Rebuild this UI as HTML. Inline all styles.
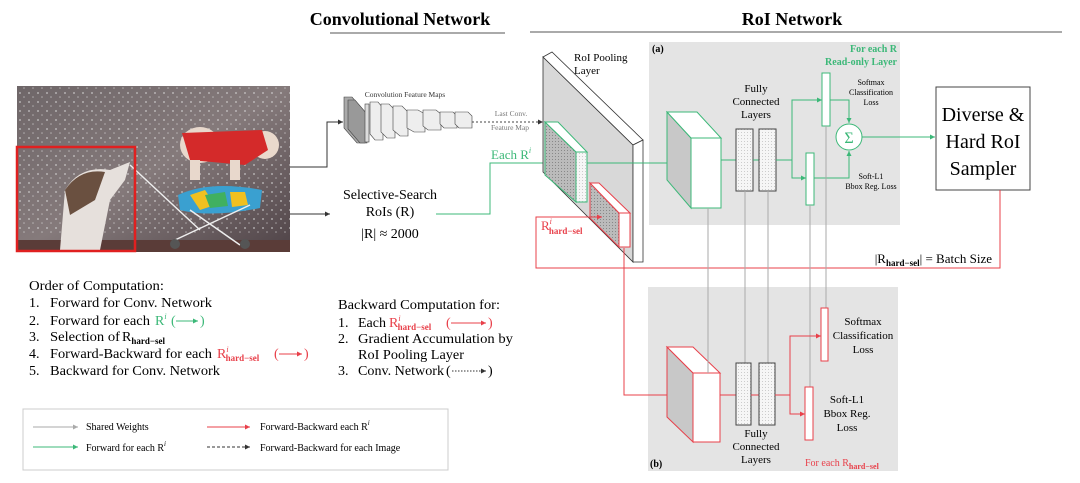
<!DOCTYPE html>
<html><head><meta charset="utf-8"><style>
html,body{margin:0;padding:0;background:#fff;}
svg{display:block;font-family:"Liberation Serif",serif;}
</style></head><body>
<svg width="1080" height="483" viewBox="0 0 1080 483" xmlns="http://www.w3.org/2000/svg">
<defs>
<marker id="ak" markerWidth="6" markerHeight="6" refX="5" refY="3" orient="auto" markerUnits="userSpaceOnUse"><path d="M0,0.5 L5,3 L0,5.5z" fill="#333"/></marker>
<marker id="ag" markerWidth="6" markerHeight="6" refX="5" refY="3" orient="auto" markerUnits="userSpaceOnUse"><path d="M0,0.5 L5,3 L0,5.5z" fill="#3cb878"/></marker>
<marker id="ar" markerWidth="6" markerHeight="6" refX="5" refY="3" orient="auto" markerUnits="userSpaceOnUse"><path d="M0,0.5 L5,3 L0,5.5z" fill="#e8404a"/></marker>
<marker id="agr" markerWidth="6" markerHeight="6" refX="5" refY="3" orient="auto" markerUnits="userSpaceOnUse"><path d="M0,0.5 L5,3 L0,5.5z" fill="#aaa"/></marker>
<pattern id="hatch" width="3" height="3" patternUnits="userSpaceOnUse"><rect width="3" height="3" fill="#bbb"/><rect width="1" height="1" fill="#888"/></pattern>
<pattern id="dots" width="3" height="3" patternUnits="userSpaceOnUse"><rect width="3" height="3" fill="#f6f6f6"/><rect width="1" height="1" fill="#ccc"/></pattern>
<pattern id="spark" width="9" height="9" patternUnits="userSpaceOnUse"><rect width="9" height="9" fill="none"/><circle cx="2" cy="3" r="1" fill="#ddd" opacity="0.6"/><circle cx="6" cy="7" r="0.8" fill="#eee" opacity="0.5"/></pattern>
<linearGradient id="bg" x1="0" y1="0" x2="1" y2="1"><stop offset="0" stop-color="#6e6668"/><stop offset="0.5" stop-color="#857a7b"/><stop offset="1" stop-color="#4f4347"/></linearGradient>
</defs>

<text x="400" y="25" font-size="18" font-weight="bold" text-anchor="middle">Convolutional Network</text>
<line x1="330" y1="33" x2="505" y2="33" stroke="#555" stroke-width="1"/>
<text x="792" y="25" font-size="18" font-weight="bold" text-anchor="middle">RoI Network</text>
<line x1="530" y1="32" x2="1062" y2="32" stroke="#555" stroke-width="1"/>

<!-- photo -->
<rect x="17" y="86" width="273" height="166" fill="url(#bg)"/>
<rect x="17" y="86" width="273" height="150" fill="url(#spark)"/>
<rect x="17" y="240" width="273" height="12" fill="#5a3c38"/>
<ellipse cx="200" cy="145" rx="20" ry="18" fill="#e8d8cc"/>
<ellipse cx="265" cy="145" rx="14" ry="14" fill="#ead9cc"/>
<path d="M182,133 L262,130 L268,150 L245,165 L190,160z" fill="#d42a2a"/>
<rect x="190" y="160" width="10" height="20" fill="#e8d8cc"/><rect x="230" y="160" width="10" height="20" fill="#e8d8cc"/>
<path d="M178,195 Q210,180 262,190 L260,208 Q210,218 180,210z" fill="#3aa0d0"/>
<path d="M190,195 L205,190 L215,205 L200,210z M230,192 L245,192 L248,205 L232,207z" fill="#f0c020"/>
<path d="M205,195 L225,192 L228,206 L210,208z" fill="#40b060"/>
<path d="M130,165 L200,230 M175,240 L250,205 M190,210 L240,245" stroke="#eee" stroke-width="1.5"/>
<circle cx="175" cy="244" r="5" fill="#555"/><circle cx="245" cy="244" r="5" fill="#555"/>
<path d="M60,250 L65,190 Q80,165 110,170 L130,162 L125,180 L110,200 L100,250z" fill="#e6e0dc"/>
<path d="M65,190 Q80,168 105,172 L95,200 L70,215z" fill="#6a5040"/>
<rect x="17" y="147" width="118" height="104" fill="none" stroke="#e02020" stroke-width="2.5"/>

<!-- conv feature maps -->
<text x="405" y="97" font-size="7.5" text-anchor="middle" fill="#333">Convolution Feature Maps</text>
<g stroke="#444" stroke-width="0.6">
<polygon points="344,97 352,97 365,112 365,143 357,143 344,128" fill="#aaa"/>
<polygon points="348,100 355,100 367,114 367,143 360,143 348,129" fill="#999"/>
<rect x="365" y="104" width="4" height="38" fill="#ddd"/>
<polygon points="370,102 378,102 383,108 383,140 375,140 370,134" fill="#eee"/>
<polygon points="381,104 389,104 395,110 395,138 387,138 381,132" fill="#eee"/>
<polygon points="393,106 402,106 408,112 408,136 400,136 393,130" fill="#eee"/>
<polygon points="407,110 418,110 425,114 425,132 414,132 407,128" fill="#eee"/>
<polygon points="423,110 436,110 441,114 441,130 428,130 423,126" fill="#eee"/>
<polygon points="440,112 453,112 457,116 457,128 444,128 440,124" fill="#eee"/>
<polygon points="455,112 468,112 472,116 472,128 459,128 455,124" fill="#eee"/>
</g>
<line x1="472" y1="122" x2="543" y2="122" stroke="#444" stroke-dasharray="2,2" marker-end="url(#ak)"/>
<text x="511" y="116" font-size="7.5" text-anchor="middle" fill="#777">Last Conv.</text>
<text x="510" y="130" font-size="7.5" text-anchor="middle" fill="#777">Feature Map</text>
<path d="M290,167 H327 V122 H343" fill="none" stroke="#333" marker-end="url(#ak)"/>
<line x1="290" y1="214" x2="330" y2="214" stroke="#333" marker-end="url(#ak)"/>
<text x="390" y="199" font-size="14" text-anchor="middle">Selective-Search</text>
<text x="390" y="216" font-size="14" text-anchor="middle">RoIs (R)</text>
<text x="390" y="238" font-size="14" text-anchor="middle">|R| ≈ 2000</text>
<path d="M436,214 H490 V163 H560" fill="none" stroke="#3cb878" marker-end="url(#ag)"/>
<text x="491" y="159" font-size="13" fill="#3cb878">Each R<tspan font-size="8" dy="-6" font-style="italic">i</tspan></text>

<!-- RoI pooling slab -->
<polygon points="543,57 633,145 633,262 543,172" fill="#d8d8d8" stroke="#333" stroke-width="0.8"/>
<polygon points="543,57 552,52 643,140 633,145" fill="#fff" stroke="#333" stroke-width="0.8"/>
<polygon points="633,145 643,140 643,262 633,262" fill="#fff" stroke="#333" stroke-width="0.8"/>
<text x="574" y="61" font-size="11">RoI Pooling</text>
<text x="574" y="74" font-size="11">Layer</text>
<polygon points="545,122 576,152 576,202 545,175" fill="url(#hatch)" stroke="#3cb878"/>
<polygon points="545,122 558,122 587,152 576,152" fill="#fff" stroke="#3cb878"/>
<rect x="576" y="152" width="11" height="50" fill="url(#dots)" stroke="#3cb878"/>
<polygon points="590,183 619,213 619,247 590,218" fill="url(#hatch)" stroke="#e8404a"/>
<polygon points="590,183 599,183 630,213 619,213" fill="#fff" stroke="#e8404a"/>
<rect x="619" y="213" width="11" height="34" fill="#fff" stroke="#e8404a"/>
<text x="541" y="230" font-size="13" fill="#e8404a">R<tspan font-size="8" dy="-6" font-style="italic">i</tspan><tspan font-size="9" font-weight="bold" dy="10" dx="-3">hard−sel</tspan></text>

<!-- (a) box -->
<rect x="649" y="42" width="251" height="183" fill="#e4e4e4"/>
<text x="652" y="52" font-size="10" font-weight="bold">(a)</text>
<text x="897" y="52" font-size="10" font-weight="bold" fill="#3cb878" text-anchor="end">For each R</text>
<text x="897" y="65" font-size="10" font-weight="bold" fill="#3cb878" text-anchor="end">Read-only Layer</text>
<line x1="587" y1="163" x2="677" y2="163" stroke="#3cb878" marker-end="url(#ag)"/>
<polygon points="667,112 691,138 691,208 667,180" fill="#c8c8c8" stroke="#3cb878"/>
<polygon points="667,112 697,112 721,138 691,138" fill="#fff" stroke="#3cb878"/>
<rect x="691" y="138" width="30" height="70" fill="#fff" stroke="#3cb878"/>
<line x1="721" y1="160" x2="736" y2="160" stroke="#3cb878"/>
<rect x="736" y="129" width="17" height="62" fill="url(#dots)" stroke="#444"/>
<line x1="753" y1="160" x2="759" y2="160" stroke="#3cb878"/>
<rect x="759" y="129" width="17" height="62" fill="url(#dots)" stroke="#444"/>
<text x="756" y="92" font-size="11" text-anchor="middle">Fully</text>
<text x="756" y="105" font-size="11" text-anchor="middle">Connected</text>
<text x="756" y="118" font-size="11" text-anchor="middle">Layers</text>
<path d="M776,160 H792 V100 H822" fill="none" stroke="#3cb878" marker-end="url(#ag)"/>
<path d="M792,160 V178 H806" fill="none" stroke="#3cb878" marker-end="url(#ag)"/>
<rect x="822" y="73" width="8" height="53" fill="#fff" stroke="#3cb878"/>
<rect x="806" y="153" width="8" height="52" fill="#fff" stroke="#3cb878"/>
<path d="M830,100 H849 V123" fill="none" stroke="#3cb878" marker-end="url(#ag)"/>
<path d="M814,178 H849 V151" fill="none" stroke="#3cb878" marker-end="url(#ag)"/>
<circle cx="849" cy="137" r="13" fill="#fff" stroke="#3cb878"/>
<text x="849" y="143" font-size="16" text-anchor="middle" fill="#3cb878">Σ</text>
<text x="871" y="85" font-size="8" text-anchor="middle">Softmax</text>
<text x="871" y="95" font-size="8" text-anchor="middle">Classification</text>
<text x="871" y="105" font-size="8" text-anchor="middle">Loss</text>
<text x="871" y="179" font-size="8" text-anchor="middle">Soft-L1</text>
<text x="871" y="189" font-size="8" text-anchor="middle">Bbox Reg. Loss</text>
<line x1="862" y1="137" x2="935" y2="137" stroke="#3cb878" marker-end="url(#ag)"/>

<rect x="936" y="87" width="94" height="103" fill="#fff" stroke="#444"/>
<text x="983" y="121" font-size="20" text-anchor="middle">Diverse &amp;</text>
<text x="983" y="148" font-size="20" text-anchor="middle">Hard RoI</text>
<text x="983" y="175" font-size="20" text-anchor="middle">Sampler</text>

<path d="M1000,190 V268 H536 V217 H602" fill="none" stroke="#e8404a" marker-end="url(#ar)"/>
<text x="992" y="263" font-size="13" text-anchor="end">|R<tspan font-size="9" font-weight="bold" dy="3">hard−sel</tspan><tspan dy="-3">| = Batch Size</tspan></text>

<g stroke="#aaa" stroke-width="1">
<line x1="708" y1="208" x2="708" y2="373"/>
<line x1="745" y1="191" x2="745" y2="363"/>
<line x1="768" y1="191" x2="768" y2="363"/>
<line x1="810" y1="205" x2="810" y2="387"/>
<line x1="826" y1="126" x2="826" y2="308"/>
</g>

<!-- (b) box -->
<rect x="648" y="287" width="250" height="184" fill="#e4e4e4"/>
<g stroke="#aaa"><line x1="708" y1="287" x2="708" y2="373"/><line x1="745" y1="287" x2="745" y2="363"/><line x1="768" y1="287" x2="768" y2="363"/><line x1="810" y1="287" x2="810" y2="387"/><line x1="826" y1="287" x2="826" y2="308"/></g>
<text x="650" y="467" font-size="10" font-weight="bold">(b)</text>
<text x="805" y="466" font-size="10" fill="#e8404a">For each R<tspan font-size="8" font-weight="bold" dy="3">hard−sel</tspan></text>
<path d="M624,248 V395 H677" fill="none" stroke="#e8404a" marker-end="url(#ar)"/>
<polygon points="667,347 693,373 693,442 667,417" fill="#c8c8c8" stroke="#e8404a"/>
<polygon points="667,347 693,347 720,373 693,373" fill="#fff" stroke="#e8404a"/>
<rect x="693" y="373" width="27" height="69" fill="#fff" stroke="#e8404a"/>
<line x1="708" y1="347" x2="708" y2="373" stroke="#aaa"/>
<line x1="720" y1="395" x2="736" y2="395" stroke="#e8404a"/>
<rect x="736" y="363" width="15" height="62" fill="url(#dots)" stroke="#444"/>
<line x1="751" y1="395" x2="759" y2="395" stroke="#e8404a"/>
<rect x="759" y="363" width="16" height="62" fill="url(#dots)" stroke="#444"/>
<text x="756" y="437" font-size="11" text-anchor="middle">Fully</text>
<text x="756" y="450" font-size="11" text-anchor="middle">Connected</text>
<text x="756" y="463" font-size="11" text-anchor="middle">Layers</text>
<path d="M775,395 H790 V336 H821" fill="none" stroke="#e8404a" marker-end="url(#ar)"/>
<path d="M790,395 V414 H805" fill="none" stroke="#e8404a" marker-end="url(#ar)"/>
<rect x="821" y="308" width="7" height="53" fill="#fff" stroke="#e8404a"/>
<rect x="805" y="387" width="8" height="53" fill="#fff" stroke="#e8404a"/>
<text x="863" y="325" font-size="11" text-anchor="middle">Softmax</text>
<text x="863" y="339" font-size="11" text-anchor="middle">Classification</text>
<text x="863" y="353" font-size="11" text-anchor="middle">Loss</text>
<text x="847" y="403" font-size="11" text-anchor="middle">Soft-L1</text>
<text x="847" y="417" font-size="11" text-anchor="middle">Bbox Reg.</text>
<text x="847" y="431" font-size="11" text-anchor="middle">Loss</text>

<!-- order of computation -->
<g font-size="14">
<text x="29" y="290" textLength="135" lengthAdjust="spacingAndGlyphs">Order of Computation:</text>
<text x="29" y="307">1.</text><text x="50" y="307" textLength="162" lengthAdjust="spacingAndGlyphs">Forward for Conv. Network</text>
<text x="29" y="325">2.</text><text x="50" y="325" textLength="100" lengthAdjust="spacingAndGlyphs">Forward for each</text>
<text x="155" y="325" fill="#3cb878">R<tspan font-size="8" dy="-6" font-style="italic">i</tspan></text>
<text x="171" y="325" fill="#3cb878">(</text>
<line x1="176" y1="321" x2="198" y2="321" stroke="#3cb878" marker-end="url(#ag)"/><text x="200" y="325" fill="#3cb878">)</text>
<text x="29" y="341">3.</text><text x="50" y="341" textLength="70" lengthAdjust="spacingAndGlyphs">Selection of</text><text x="122" y="341">R<tspan font-size="9" font-weight="bold" dy="3">hard−sel</tspan></text>
<text x="29" y="358">4.</text><text x="50" y="358" textLength="162" lengthAdjust="spacingAndGlyphs">Forward-Backward for each</text>
<text x="217" y="358" fill="#e8404a">R<tspan font-size="8" dy="-6" font-style="italic">i</tspan><tspan font-size="9" font-weight="bold" dy="9" dx="-3">hard−sel</tspan></text>
<text x="274" y="358" fill="#e8404a">(</text>
<line x1="279" y1="354" x2="302" y2="354" stroke="#e8404a" marker-end="url(#ar)"/><text x="304" y="358" fill="#e8404a">)</text>
<text x="29" y="375">5.</text><text x="50" y="375" textLength="170" lengthAdjust="spacingAndGlyphs">Backward for Conv. Network</text>

<text x="338" y="309" textLength="162" lengthAdjust="spacingAndGlyphs">Backward Computation for:</text>
<text x="338" y="327">1.</text><text x="358" y="327">Each</text>
<text x="389" y="327" fill="#e8404a">R<tspan font-size="8" dy="-6" font-style="italic">i</tspan><tspan font-size="9" font-weight="bold" dy="9" dx="-3">hard−sel</tspan></text>
<text x="446" y="327" fill="#e8404a">(</text>
<line x1="451" y1="323" x2="486" y2="323" stroke="#e8404a" marker-end="url(#ar)"/><text x="488" y="327" fill="#e8404a">)</text>
<text x="338" y="343">2.</text><text x="358" y="343" textLength="155" lengthAdjust="spacingAndGlyphs">Gradient Accumulation by</text>
<text x="358" y="359" textLength="106" lengthAdjust="spacingAndGlyphs">RoI Pooling Layer</text>
<text x="338" y="375">3.</text><text x="358" y="375" textLength="86" lengthAdjust="spacingAndGlyphs">Conv. Network</text><text x="446" y="375">(</text>
<line x1="452" y1="371" x2="486" y2="371" stroke="#333" stroke-dasharray="1.5,1.5" marker-end="url(#ak)"/><text x="488" y="375">)</text>
</g>

<!-- legend -->
<rect x="23" y="409" width="425" height="61" fill="#fff" stroke="#ccc"/>
<g font-size="10">
<line x1="33" y1="427" x2="78" y2="427" stroke="#aaa" marker-end="url(#agr)"/><text x="86" y="430">Shared Weights</text>
<line x1="33" y1="447" x2="78" y2="447" stroke="#3cb878" marker-end="url(#ag)"/><text x="86" y="451">Forward for each R<tspan font-size="7" dy="-5" font-style="italic">i</tspan></text>
<line x1="207" y1="427" x2="250" y2="427" stroke="#e8404a" marker-end="url(#ar)"/><text x="260" y="430">Forward-Backward each R<tspan font-size="7" dy="-5" font-style="italic">i</tspan></text>
<line x1="207" y1="447" x2="250" y2="447" stroke="#333" stroke-dasharray="3,2" marker-end="url(#ak)"/><text x="260" y="451">Forward-Backward for each Image</text>
</g>
</svg>
</body></html>
